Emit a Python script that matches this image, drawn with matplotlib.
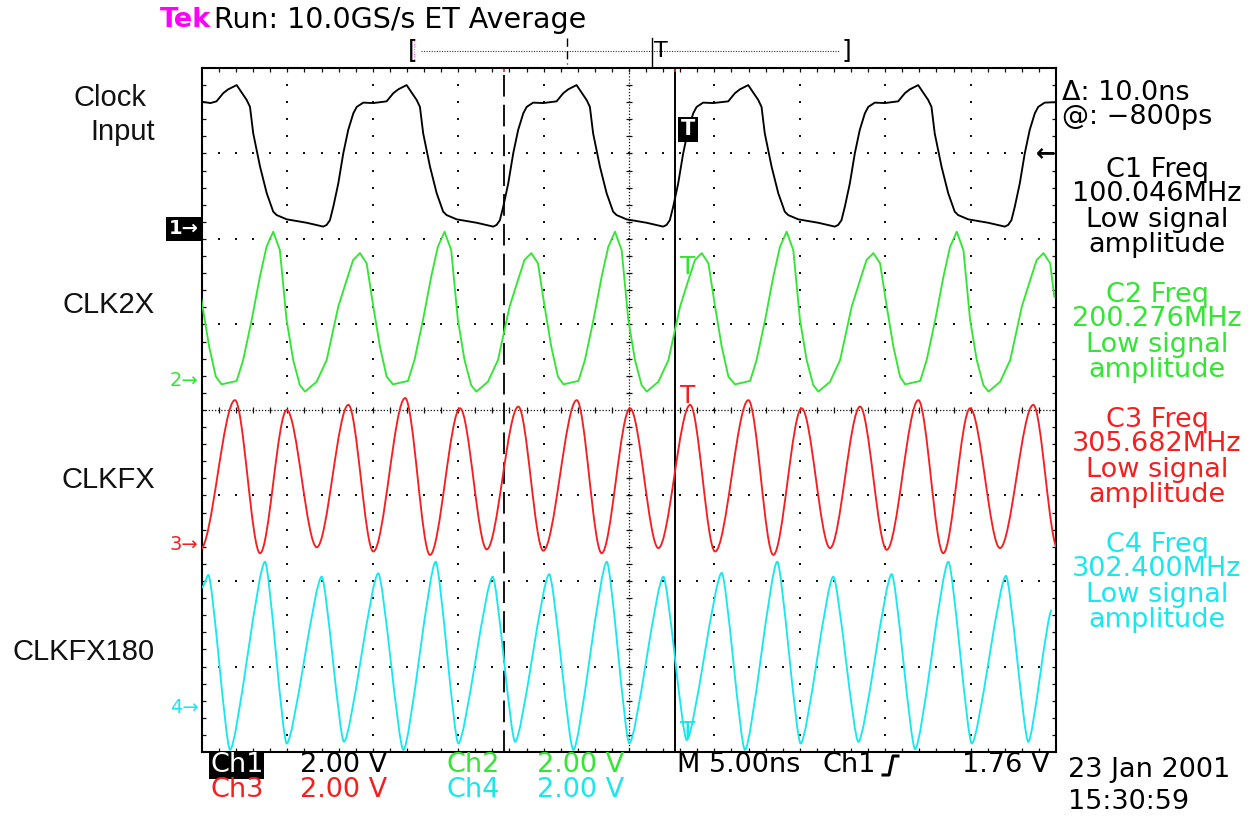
import matplotlib
matplotlib.use("Agg")
import matplotlib.pyplot as plt
import numpy as np
from matplotlib.path import Path
from matplotlib.patches import PathPatch
import matplotlib.transforms as mtransforms

W, H = 1256, 816
NS_PER_DIV = 5.0
V_PER_DIV = 2.0

# channel setup (ground marker position in divisions from the bottom)
labels = ["Clock", "CLK2X", "CLKFX", "CLKFX180"]
ground_div = [6.12, 4.35, 2.43, 0.52]
colors = ["#000000", "#33e633", "#f42020", "#18e8ee"]
freq_mhz = ["100.046MHz", "200.276MHz", "305.682MHz", "302.400MHz"]
volts_div = ["2.00 V", "2.00 V", "2.00 V", "2.00 V"]

cursor_a_ns = 17.68
cursor_b_ns = 27.69
trigger_level_v = 1.76

# Ch1 clock input (ns, V)
clock_t = [0.0, 0.5, 0.85, 1.24, 1.53,
           2.03, 2.62, 2.81, 3.0, 3.4, 3.79, 4.17, 4.37, 4.96, 6.13, 7.1, 7.3,
           7.49, 7.69, 7.98, 8.27, 8.56, 8.86, 9.06, 9.44, 10.03, 10.81, 11.2, 11.49,
           11.98, 12.57, 12.76, 12.95, 13.35, 13.74, 14.12, 14.32, 14.91, 16.08, 17.05, 17.25,
           17.44, 17.64, 17.93, 18.22, 18.51, 18.81, 19.01, 19.39, 19.98, 20.76, 21.15, 21.44,
           21.93, 22.52, 22.71, 22.9, 23.3, 23.69, 24.07, 24.27, 24.86, 26.03, 27.0, 27.2,
           27.39, 27.59, 27.88, 28.17, 28.46, 28.76, 28.96, 29.34, 29.93, 30.81, 31.2, 31.49,
           31.98, 32.57, 32.76, 32.95, 33.35, 33.74, 34.12, 34.32, 34.91, 36.08, 37.05, 37.25,
           37.44, 37.64, 37.93, 38.22, 38.51, 38.81, 39.01, 39.39, 39.98, 40.76, 41.15, 41.44,
           41.93, 42.52, 42.71, 42.9, 43.3, 43.69, 44.07, 44.27, 44.86, 46.03, 47.0, 47.2,
           47.39, 47.59, 47.88, 48.17, 48.46, 48.76, 48.96, 49.34, 49.9]
clock_v = [2.97, 2.94, 2.98, 3.17, 3.26,
           3.36, 3.01, 2.85, 2.23, 1.45, 0.83, 0.40, 0.32, 0.22, 0.14, 0.05, 0.09,
           0.20, 0.52, 1.06, 1.76, 2.31, 2.70, 2.85, 2.95, 2.94, 2.98, 3.17, 3.26,
           3.36, 3.01, 2.85, 2.23, 1.45, 0.83, 0.40, 0.32, 0.22, 0.14, 0.05, 0.09,
           0.20, 0.52, 1.06, 1.76, 2.31, 2.70, 2.85, 2.95, 2.94, 2.98, 3.17, 3.26,
           3.36, 3.01, 2.85, 2.23, 1.45, 0.83, 0.40, 0.32, 0.22, 0.14, 0.05, 0.09,
           0.20, 0.52, 1.06, 1.76, 2.31, 2.70, 2.85, 2.95, 2.94, 2.98, 3.17, 3.26,
           3.36, 3.01, 2.85, 2.23, 1.45, 0.83, 0.40, 0.32, 0.22, 0.14, 0.05, 0.09,
           0.20, 0.52, 1.06, 1.76, 2.31, 2.70, 2.85, 2.95, 2.94, 2.98, 3.17, 3.26,
           3.36, 3.01, 2.85, 2.23, 1.45, 0.83, 0.40, 0.32, 0.22, 0.14, 0.05, 0.09,
           0.20, 0.52, 1.06, 1.76, 2.31, 2.70, 2.85, 2.95, 2.96]

# Ch2 CLK2X
clk2x_t = [-0.36, 0.03, 0.42, 0.81,
           1.15, 2.03, 2.41, 2.91, 3.39, 3.78, 4.17, 4.56, 4.95, 5.34, 5.73, 6.03, 6.71,
           7.30, 7.98, 8.47, 8.85, 9.25, 9.64, 10.03, 10.42, 10.81,
           11.18, 12.06, 12.44, 12.94, 13.42, 13.81, 14.20, 14.59, 14.98, 15.37, 15.76, 16.06,
           16.74, 17.33, 18.01, 18.50, 18.88, 19.28, 19.67, 20.06, 20.45, 20.84,
           21.16, 22.04, 22.42, 22.92, 23.40, 23.79, 24.18, 24.57, 24.96, 25.35, 25.74, 26.04,
           26.72, 27.31, 27.99, 28.48, 28.86, 29.26, 29.65, 30.04, 30.43, 30.82,
           31.21, 32.09, 32.47, 32.97, 33.45, 33.84, 34.23, 34.62, 35.01, 35.40, 35.79, 36.09,
           36.77, 37.36, 38.04, 38.53, 38.91, 39.31, 39.70, 40.09, 40.48, 40.87,
           41.17, 42.05, 42.43, 42.93, 43.41, 43.80, 44.19, 44.58, 44.97, 45.36, 45.75, 46.05,
           46.73, 47.32, 48.00, 48.49, 48.87, 49.27, 49.66, 49.90]
clk2x_v = [2.73, 1.72, 0.78, 0.08,
           -0.10, -0.02, 0.47, 1.41, 2.42, 3.12, 3.47, 3.04, 1.41, 0.47, -0.12, -0.27, -0.04,
           0.47, 1.72, 2.34, 2.81, 2.97, 2.73, 1.72, 0.78, 0.08,
           -0.10, -0.02, 0.47, 1.41, 2.42, 3.12, 3.47, 3.04, 1.41, 0.47, -0.12, -0.27,
           -0.04, 0.47, 1.72, 2.34, 2.81, 2.97, 2.73, 1.72, 0.78, 0.08,
           -0.10, -0.02, 0.47, 1.41, 2.42, 3.12, 3.47, 3.04, 1.41, 0.47, -0.12, -0.27,
           -0.04, 0.47, 1.72, 2.34, 2.81, 2.97, 2.73, 1.72, 0.78, 0.08,
           -0.10, -0.02, 0.47, 1.41, 2.42, 3.12, 3.47, 3.04, 1.41, 0.47, -0.12, -0.27,
           -0.04, 0.47, 1.72, 2.34, 2.81, 2.97, 2.73, 1.72, 0.78, 0.08,
           -0.10, -0.02, 0.47, 1.41, 2.42, 3.12, 3.47, 3.04, 1.41, 0.47, -0.12, -0.27,
           -0.04, 0.47, 1.72, 2.34, 2.81, 2.97, 2.73, 1.95]

# Ch3 CLKFX, peaks and troughs
clkfx_t = [-0.10, 1.93, 3.40, 4.96, 6.72, 8.57, 10.03, 11.89, 13.35, 15.11, 16.67,
           18.52, 19.98, 21.94, 23.40, 25.06, 26.72, 28.58, 30.04, 31.99, 33.45,
           35.11, 36.77, 38.53, 40.09, 41.94, 43.40, 44.97, 46.72, 48.67, 50.10]
clkfx_v = [-0.12, 3.37, -0.21, 3.14, -0.07, 3.26, -0.17, 3.42, -0.25, 3.18, -0.12,
           3.22, -0.15, 3.37, -0.21, 3.18, -0.09, 3.26, -0.17, 3.37, -0.25,
           3.18, -0.09, 3.22, -0.13, 3.37, -0.21, 3.18, -0.09, 3.26, -0.10]

# Ch4 CLKFX180, peaks and troughs
clkfx180_t = [0.00, 0.37, 1.64, 3.69, 4.96, 7.01, 8.31, 10.32, 11.79, 13.68, 15.01,
              17.02, 18.33, 20.33, 21.74, 23.70, 25.02, 27.01, 28.38, 30.43, 31.79,
              33.68, 35.05, 36.96, 38.43, 40.38, 41.75, 43.70, 45.07, 47.07, 48.38, 49.75]
clkfx180_v = [2.80, 3.10, -0.99, 3.41, -0.84, 3.06, -0.80, 3.14, -0.99, 3.41, -0.84,
              3.06, -0.80, 3.12, -0.99, 3.41, -0.84, 3.06, -0.76, 3.15, -0.99,
              3.41, -0.84, 3.06, -0.80, 3.12, -0.97, 3.41, -0.84, 3.08, -0.80, 2.28]


def to_div(v, ch):
    return ground_div[ch] + np.asarray(v, float) / V_PER_DIV


def smooth_path(t, y, k):
    # bezier segments between extremes, flat tangent at each peak/trough
    verts = [(t[0], y[0])]
    codes = [Path.MOVETO]
    for i in range(1, len(t)):
        dt = t[i] - t[i - 1]
        verts += [(t[i - 1] + k * dt, y[i - 1]), (t[i] - k * dt, y[i]), (t[i], y[i])]
        codes += [Path.CURVE4] * 3
    return Path(verts, codes)


fig = plt.figure(figsize=(W / 100, H / 100), dpi=100)
fig.patch.set_facecolor("white")
plt.rcParams["font.family"] = ["DejaVu Sans"]

ax = fig.add_axes([202 / W, 1 - 752 / H, 854 / W, 684 / H])
ax.set_xlim(0, 10 * NS_PER_DIV)
ax.set_ylim(0, 8)
ax.set_xticks([])
ax.set_yticks([])
for s in ax.spines.values():
    s.set_linewidth(1.5)
    s.set_color("black")

# graticule: dotted division lines
gdot = dict(ls="none", marker="s", ms=1.6, mew=0, color="#111111", zorder=1)
for gx in [1, 2, 3, 4, 6, 7, 8, 9]:
    ax.plot(np.full(39, gx * NS_PER_DIV), np.arange(1, 40) * 0.2, **gdot)
for gy in [1, 2, 3, 5, 6, 7]:
    ax.plot(np.arange(1, 50) * 1.0, np.full(49, gy), **gdot)
ax.axvline(25, color="#111111", lw=0.9, ls=(0, (1, 1.5)), zorder=1)
ax.axhline(4, color="#111111", lw=0.9, ls=(0, (1, 1.5)), zorder=1)
ax.plot(np.arange(1, 50) * 1.0, np.full(49, 4), ls="none", marker="|", ms=5, mew=0.9, color="#111111")
ax.plot(np.full(39, 25), np.arange(1, 40) * 0.2, ls="none", marker="_", ms=5, mew=0.9, color="#111111")
# edge ticks (markers clipped to the inside half)
for yy in [0, 8]:
    ax.plot(np.arange(1, 50) * 1.0, np.full(49, yy), ls="none", marker="|", ms=6, mew=0.9, color="#111111")
for xx in [0, 50]:
    ax.plot(np.full(39, xx), np.arange(1, 40) * 0.2, ls="none", marker="_", ms=6, mew=0.9, color="#111111")

# cursors
ax.axvline(cursor_a_ns, color="black", lw=1.3, dashes=(12, 4.5), zorder=2)
ax.axvline(cursor_b_ns, color="black", lw=1.4, zorder=2)
ax.plot([cursor_a_ns, cursor_b_ns], [8, 8], ls="none", marker="|", ms=6, mew=1.2, color="#ff2020")

# traces
lw = 1.35
ax.plot(clock_t, to_div(clock_v, 0), color=colors[0], lw=lw, zorder=3)
ax.plot(clk2x_t, to_div(clk2x_v, 1), color=colors[1], lw=lw, zorder=3)
ax.add_patch(PathPatch(smooth_path(clkfx_t, to_div(clkfx_v, 2), 0.33),
                       fill=False, ec=colors[2], lw=lw, zorder=3))
ax.add_patch(PathPatch(smooth_path(clkfx180_t, to_div(clkfx180_v, 3), 0.2),
                       fill=False, ec=colors[3], lw=lw, zorder=3))

# ground markers on the left edge
edge = mtransforms.blended_transform_factory(ax.transAxes, ax.transData)
ax.text(-0.004, ground_div[0], "1\u2192", transform=edge, ha="right", va="center",
        fontsize=14, fontweight="bold", color="white",
        bbox=dict(fc="black", ec="none", pad=1.8), clip_on=False)
for ch in [1, 2, 3]:
    ax.text(-0.004, ground_div[ch], f"{ch + 1}\u2192", transform=edge, ha="right", va="center",
            fontsize=14, color=colors[ch], clip_on=False)
# trigger level arrow
ax.text(0.999, ground_div[0] + trigger_level_v / V_PER_DIV, "\u2190", transform=edge,
        ha="right", va="center", fontsize=17, fontweight="bold", color="black")

# overlay in pixel units for the scope readouts
ov = fig.add_axes([0, 0, 1, 1])
ov.set_xlim(0, W)
ov.set_ylim(H, 0)
ov.axis("off")
ov.patch.set_alpha(0)
fs = 19.5

ov.text(160, 20, "Tek", color="#ff00ff", fontsize=fs, fontweight="bold", ha="left", va="center")
ov.text(214, 20, "Run: 10.0GS/s ET Average", color="black", fontsize=20.5, ha="left", va="center")

# record-view bar above the screen
ov.plot([421, 840], [51, 51], color="#333333", lw=0.8, ls=(0, (1, 1.3)))
ov.text(413, 50, "[", fontsize=18, ha="center", va="center", color="black")
ov.text(846, 50, "]", fontsize=18, ha="center", va="center", color="black")
ov.plot([414, 414], [41, 60], color="#ff00ff", lw=0.6, ls=(0, (1, 2)))
ov.plot([567, 567], [38, 64], color="black", lw=1.0, dashes=(6, 3))
ov.plot([652, 652], [38, 66], color="black", lw=1.0)
ov.text(661, 51, "T", fontsize=16, ha="center", va="center", color="black")

# trigger position glyphs
ov.text(688, 129, "T", fontsize=15, fontweight="bold", color="white", ha="center", va="center",
        bbox=dict(fc="black", ec="none", pad=1.8))
ov.text(688, 267, "T", fontsize=18, color=colors[1], ha="center", va="center")
ov.text(688, 396, "T", fontsize=18, color=colors[2], ha="center", va="center")
ov.text(688, 732, "T", fontsize=18, color=colors[3], ha="center", va="center")

# cursor readout and frequency measurements
ov.text(1062, 93, "\u0394: 10.0ns", fontsize=fs, ha="left", va="center")
ov.text(1062, 117, "@: \u2212800ps", fontsize=fs, ha="left", va="center")
for ch in range(4):
    y0 = 170 + 125 * ch
    for k, line in enumerate([f"C{ch + 1} Freq", freq_mhz[ch], "Low signal", "amplitude"]):
        ov.text(1157, y0 + [0, 24, 50, 75][k], line, fontsize=fs, color=colors[ch],
                ha="center", va="center")

# bottom readouts
ov.text(210, 765, "Ch1", fontsize=fs, color="white", ha="left", va="center",
        bbox=dict(fc="black", ec="none", pad=0.6))
ov.text(300, 765, volts_div[0], fontsize=fs, color=colors[0], ha="left", va="center")
ov.text(447, 765, "Ch2", fontsize=fs, color=colors[1], ha="left", va="center")
ov.text(537, 765, volts_div[1], fontsize=fs, color=colors[1], ha="left", va="center")
ov.text(210, 790, "Ch3", fontsize=fs, color=colors[2], ha="left", va="center")
ov.text(300, 790, volts_div[2], fontsize=fs, color=colors[2], ha="left", va="center")
ov.text(447, 790, "Ch4", fontsize=fs, color=colors[3], ha="left", va="center")
ov.text(537, 790, volts_div[3], fontsize=fs, color=colors[3], ha="left", va="center")
ov.text(677, 765, "M 5.00ns", fontsize=fs, ha="left", va="center")
ov.text(822, 765, "Ch1", fontsize=fs, ha="left", va="center")
ov.plot([883, 889, 893, 898], [775, 775, 756, 756], color="black", lw=2.2)
ov.text(1050, 765, f"{trigger_level_v:.2f} V", fontsize=fs, ha="right", va="center")
ov.text(1068, 770, "23 Jan 2001", fontsize=fs, ha="left", va="center")
ov.text(1068, 802, "15:30:59", fontsize=fs, ha="left", va="center")

# signal names on the left
lab = dict(fontsize=21, family="Liberation Sans", ha="right", va="center", color="#111111")
ov.text(146, 98, labels[0], **lab)
ov.text(155, 132, "Input", **lab)
ov.text(155, 305, labels[1], **lab)
ov.text(155, 480, labels[2], **lab)
ov.text(155, 652, labels[3], **lab)

fig.savefig("out.png", dpi=100, facecolor="white")
